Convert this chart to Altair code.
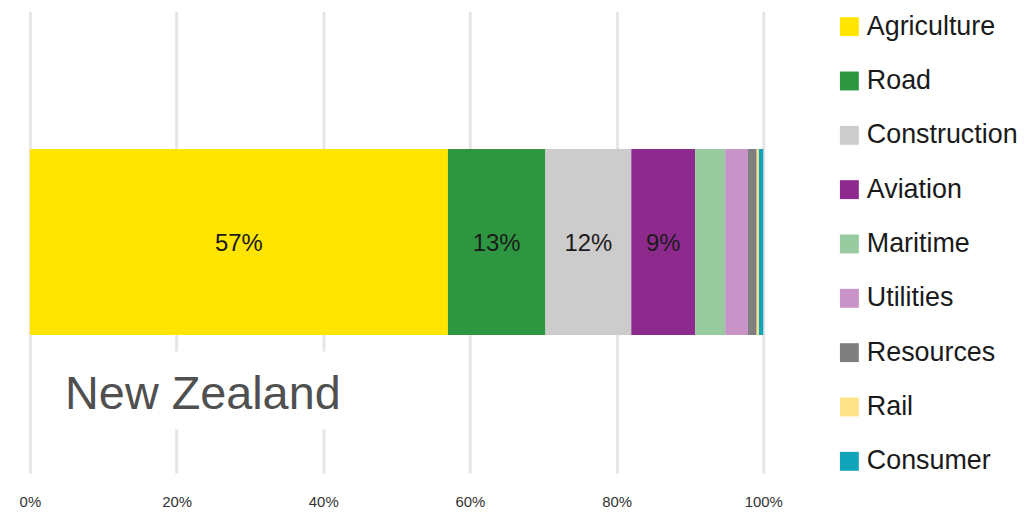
import altair as alt
import pandas as pd

categories = ["Agriculture", "Road", "Construction", "Aviation", "Maritime",
              "Utilities", "Resources", "Rail", "Consumer"]
values = [57.0, 13.3, 11.7, 8.7, 4.1, 3.1, 1.2, 0.3, 0.6]
colors = ["#FFE500", "#2E9640", "#CCCCCC", "#8E2A8E", "#98CB9F",
          "#C893C6", "#7F7F7F", "#FFE38A", "#12A4B8"]
country = "New Zealand"
ticks = [0, 20, 40, 60, 80, 100]

df = pd.DataFrame({
    "sector": categories,
    "value": values,
    "order": list(range(len(categories))),
    "country": [country] * len(categories),
})

x_scale = alt.Scale(domain=[0, 100], nice=False)
y_enc = alt.Y("country:N", axis=None,
              scale=alt.Scale(paddingInner=0, paddingOuter=0.741))

base = alt.Chart(df)

bars = base.mark_bar(stroke=None).encode(
    x=alt.X("value:Q", stack="zero", scale=x_scale, title=None,
            axis=alt.Axis(values=ticks, labelExpr="datum.value + '%'",
                          grid=True, gridWidth=3, gridColor="#E6E6E6",
                          domain=False, ticks=False, labelPadding=22,
                          labelFlush=False, labelFontSize=15,
                          labelColor="#333333", labelFont="Liberation Sans")),
    y=y_enc,
    color=alt.Color("sector:N",
                    scale=alt.Scale(domain=categories, range=colors),
                    sort=categories,
                    legend=alt.Legend(title=None, orient="none", legendX=810, legendY=2,
                                      symbolType="square", symbolSize=361,
                                      symbolStrokeWidth=0, labelFontSize=27,
                                      labelFont="Liberation Sans", labelColor="#1A1A1A",
                                      labelOffset=4, rowPadding=26.6, padding=0,
                                      labelLimit=300)),
    order=alt.Order("order:Q"),
)

labels = base.transform_stack(
    stack="value", groupby=["country"], as_=["x0", "x1"],
    sort=[alt.SortField("order", order="ascending")]
).transform_calculate(
    mid="(datum.x0 + datum.x1) / 2",
    lab="format(round(datum.value), 'd') + '%'"
).transform_filter(
    "datum.value >= 5"
).mark_text(fontSize=24, font="Liberation Sans", color="#1A1A1A", dy=2).encode(
    x=alt.X("mid:Q", scale=x_scale),
    y=y_enc,
    text="lab:N",
)

name_df = pd.DataFrame({"label": [country]})
box = alt.Chart(name_df).mark_rect(color="white").encode(
    x=alt.datum(3, scale=x_scale), x2=alt.datum(45),
    y=alt.value(342), y2=alt.value(420),
)
name = alt.Chart(name_df).mark_text(
    align="left", baseline="alphabetic", fontSize=47,
    font="Liberation Sans", color="#505050"
).encode(
    x=alt.datum(4.8, scale=x_scale), y=alt.value(400), text="label:N"
)

chart = alt.layer(bars, box, name, labels).properties(
    width=737, height=464,
    autosize=alt.AutoSizeParams(type="none"),
    padding={"left": 22, "top": 2, "right": 266, "bottom": 36},
).configure_view(stroke=None)

chart.save("out.html", embed_options={"renderer": "svg", "actions": False})
